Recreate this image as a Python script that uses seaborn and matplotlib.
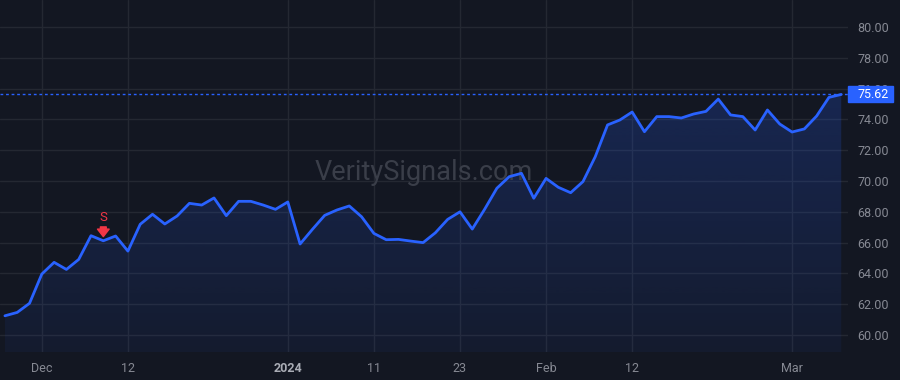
import pandas as pd
import numpy as np
import matplotlib.pyplot as plt
import seaborn as sns

# trading days (US market holidays skipped)
holidays = ["2023-12-25", "2024-01-01", "2024-01-15", "2024-02-19"]
dates = pd.bdate_range("2023-11-28", "2024-03-07", freq="C", holidays=holidays)

prices = [61.25, 61.47, 62.06, 63.96, 64.72, 64.26, 64.91, 66.45, 66.12, 66.43,
          65.45, 67.19, 67.84, 67.21, 67.73, 68.55, 68.44, 68.90, 67.75, 68.68,
          68.68, 68.44, 68.16, 68.64, 65.91, 66.86, 67.77, 68.12, 68.38, 67.68,
          66.60, 66.19, 66.21, 66.10, 66.00, 66.64, 67.51, 68.00, 66.88, 68.16,
          69.53, 70.28, 70.50, 68.88, 70.17, 69.59, 69.24, 69.96, 71.58, 73.64,
          73.96, 74.48, 73.20, 74.18, 74.18, 74.09, 74.35, 74.52, 75.32, 74.29,
          74.18, 73.31, 74.61, 73.70, 73.18, 73.38, 74.22, 75.43, 75.62]

tick_dates = ["2023-12-01", "2023-12-12", "2024-01-02", "2024-01-11",
              "2024-01-23", "2024-02-01", "2024-02-12", "2024-03-01"]
tick_labels = ["Dec", "12", "2024", "11", "23", "Feb", "12", "Mar"]
y_ticks = [60, 62, 64, 66, 68, 70, 72, 74, 76, 78, 80]

signal_date = "2023-12-08"
signal_text = "S"
last_price = prices[-1]
watermark = "VeritySignals.com"

bg = "#131722"
grid = "#242832"
blue = "#2962ff"
red = "#f23645"

df = pd.DataFrame({"date": dates, "price": prices})
df["idx"] = np.arange(len(df))
pos = {d: i for i, d in enumerate(df["date"].dt.strftime("%Y-%m-%d"))}

sns.set_style("dark", {"axes.facecolor": bg, "figure.facecolor": bg})
plt.rcParams["font.family"] = ["Roboto", "DejaVu Sans"]

fig = plt.figure(figsize=(9, 3.8), dpi=100)
ax = fig.add_axes([0, 28 / 380, 848 / 900, 352 / 380])
ax.set_facecolor(bg)

# gradient area under the line
ymin, ymax = 58.9, 81.75
xmin, xmax = -0.4, len(df) - 0.45
poly = ax.fill_between(df["idx"], df["price"], ymin, color="none", lw=0)
grad = np.zeros((100, 1, 4))
grad[:, 0, :3] = plt.matplotlib.colors.to_rgb(blue)
grad[:, 0, 3] = np.linspace(0.22, 0.06, 100)
im = ax.imshow(grad, aspect="auto", extent=[xmin, xmax, ymin, 76.5],
               origin="upper", zorder=1)
im.set_clip_path(poly.get_paths()[0], transform=ax.transData)

sns.lineplot(data=df, x="idx", y="price", color=blue, lw=2, ax=ax, zorder=3)

ax.set_xlim(xmin, xmax)
ax.set_ylim(ymin, ymax)

# x ticks
ax.set_xticks([pos[d] for d in tick_dates])
ax.set_xticklabels(tick_labels)
for lab in ax.get_xticklabels():
    if lab.get_text() == "2024":
        lab.set_fontweight("bold")
        lab.set_color("#a9acb5")
    else:
        lab.set_color("#868993")
ax.tick_params(axis="x", length=0, pad=7, labelsize=9)

# y ticks on the right
ax.yaxis.tick_right()
ax.set_yticks(y_ticks)
ax.set_yticklabels([f"{v:.2f}" for v in y_ticks])
ax.tick_params(axis="y", length=0, pad=7, labelsize=9, labelcolor="#868993")

ax.grid(True, color=grid, lw=1)
ax.set_axisbelow(True)
for s in ax.spines.values():
    s.set_visible(False)
ax.set_xlabel("")
ax.set_ylabel("")

# watermark
ax.text(0.5, 0.51, watermark, transform=ax.transAxes, ha="center", va="center",
        fontsize=19.5, color="#3a3e49", zorder=2)

# last price line + label
ax.axhline(last_price, color=blue, lw=1, ls=(0, (2, 2)), zorder=2)
trans = plt.matplotlib.transforms.blended_transform_factory(ax.transAxes, ax.transData)
ax.add_patch(plt.Rectangle((1.0, last_price - 0.52), 45 / 848, 1.04, transform=trans,
                           color=blue, clip_on=False, zorder=5))
ax.text(1.0 + 10 / 848, last_price, f"{last_price:.2f}", transform=trans,
        ha="left", va="center", color="white", fontsize=9, zorder=6, clip_on=False)

# sell signal marker
si = pos[signal_date]
sp = prices[si]
ax.annotate("", xy=(si, sp), xytext=(0, 10), textcoords="offset points",
            arrowprops=dict(arrowstyle="simple,head_length=0.45,head_width=0.7,tail_width=0.35",
                            color=red, shrinkA=0, shrinkB=3, mutation_scale=12),
            zorder=6)
ax.annotate(signal_text, xy=(si, sp), xytext=(0, 17), textcoords="offset points",
            ha="center", va="center", color=red, fontsize=9.5, zorder=6)

fig.savefig("out.png", dpi=100, facecolor=bg)
